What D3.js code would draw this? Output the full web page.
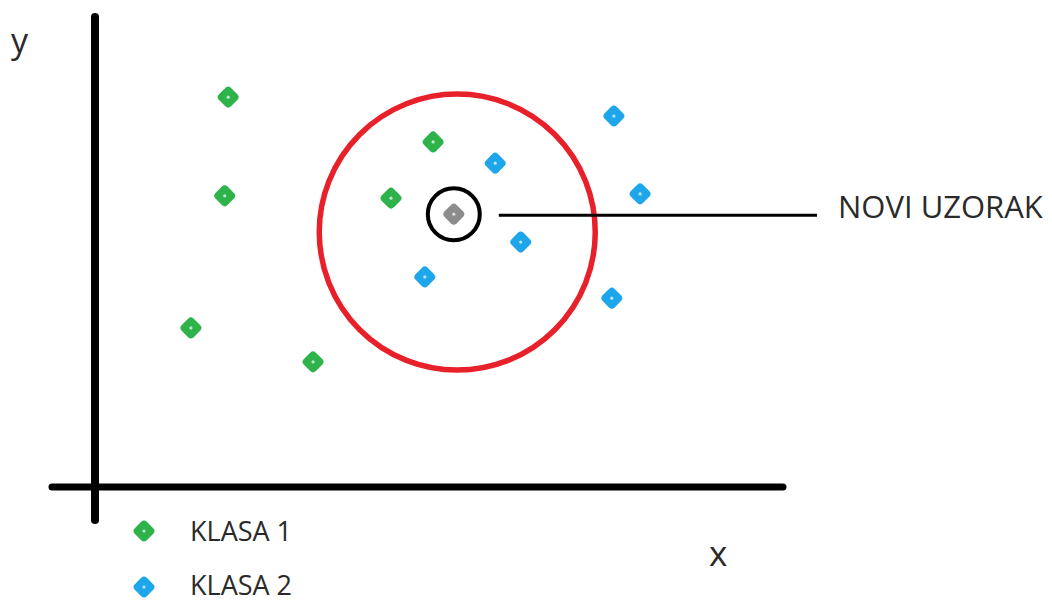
<!DOCTYPE html>
<html>
<head>
<meta charset="utf-8">
<script src="https://cdn.jsdelivr.net/npm/d3@7"></script>
<style>
  body { margin: 0; background: #fff; }
  text { font-family: "Open Sans", sans-serif; fill: #2a2a2a; }
</style>
</head>
<body>
<div id="chart"></div>
<script>
// podaci (procjena s crteza)
var klasa1X = [1.93, 1.88, 1.39, 3.16, 4.90, 4.29];
var klasa1Y = [8.26, 6.17, 3.37, 2.65, 7.31, 6.12];
var klasa2X = [7.52, 5.80, 7.90, 6.17, 4.78, 7.49];
var klasa2Y = [7.86, 6.86, 6.21, 5.19, 4.45, 4.00];
var noviX = [5.20];
var noviY = [5.78];
var legendLabels = ["KLASA 1", "KLASA 2"];

var W = 1052, H = 603;
var svg = d3.select("#chart").append("svg")
    .attr("width", W).attr("height", H);

var x = d3.scaleLinear().domain([0, 10]).range([95, 785]);
var y = d3.scaleLinear().domain([0, 10]).range([487, 15]);

// osi
svg.append("line")
    .attr("x1", 95).attr("x2", 95).attr("y1", 17).attr("y2", 520)
    .attr("stroke", "#000").attr("stroke-width", 8).attr("stroke-linecap", "round");
svg.append("line")
    .attr("x1", 52).attr("x2", 783).attr("y1", 487).attr("y2", 487)
    .attr("stroke", "#000").attr("stroke-width", 7).attr("stroke-linecap", "round");

svg.append("text").attr("x", 11).attr("y", 53).style("font-size", "34px").text("y");
svg.append("text").attr("x", 709).attr("y", 566).style("font-size", "35px").text("x");

// crveni krug (susjedstvo)
svg.append("circle")
    .attr("cx", x(5.25)).attr("cy", y(5.40)).attr("r", 138)
    .attr("fill", "none").attr("stroke", "#e8202a").attr("stroke-width", 5.5);

function diamond(g, cx, cy, color) {
  g.append("rect")
    .attr("x", -8.5).attr("y", -8.5).attr("width", 17).attr("height", 17)
    .attr("rx", 4)
    .attr("fill", color)
    .attr("transform", "translate(" + cx + "," + cy + ") rotate(45)");
  g.append("circle").attr("cx", cx).attr("cy", cy).attr("r", 1.6)
    .attr("fill", "#fff").attr("opacity", 0.7);
}

var pts = svg.append("g");
klasa1X.forEach(function(v, i) { diamond(pts, x(v), y(klasa1Y[i]), "#2db34a"); });
klasa2X.forEach(function(v, i) { diamond(pts, x(v), y(klasa2Y[i]), "#1ea6ea"); });

// novi uzorak
noviX.forEach(function(v, i) {
  var cx = x(v), cy = y(noviY[i]);
  svg.append("circle").attr("cx", cx).attr("cy", cy).attr("r", 26)
    .attr("fill", "none").attr("stroke", "#000").attr("stroke-width", 4);
  diamond(pts, cx, cy, "#8c8c8c");
  svg.append("line")
    .attr("x1", cx + 45).attr("x2", 817).attr("y1", cy + 1).attr("y2", cy + 1)
    .attr("stroke", "#000").attr("stroke-width", 3);
  svg.append("text").attr("x", 838).attr("y", 218)
    .style("font-size", "31px").text("NOVI UZORAK");
});

// legenda
var legColors = ["#2db34a", "#1ea6ea"];
legendLabels.forEach(function(l, i) {
  var ly = 531 + i * 56;
  diamond(svg, 144, ly, legColors[i]);
  svg.append("text").attr("x", 190).attr("y", ly + 10 - i * 2)
    .style("font-size", "27px").text(l);
});
</script>
</body>
</html>
